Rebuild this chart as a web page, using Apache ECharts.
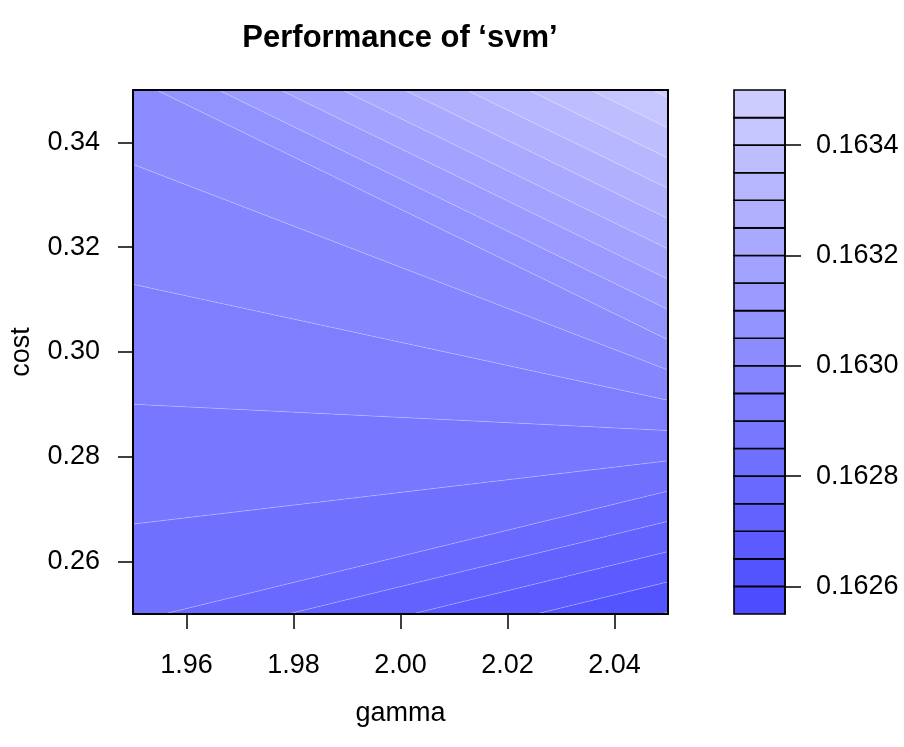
<!DOCTYPE html>
<html><head><meta charset="utf-8">
<script src="https://cdn.jsdelivr.net/npm/echarts@6/dist/echarts.min.js"></script>
<style>html,body{margin:0;padding:0;background:#fff}#c{width:904px;height:747px}</style>
</head><body><div id="c"></div>
<script>
// ---- data ----
const gammaValues = [1.95, 2.05];
const costValues = [0.25, 0.35];
const errorAtCost025 = [0.1628125, 0.1625968]; // gamma 1.95, 2.05
const errorAtCost035 = [0.1630310, 0.1634625]; // gamma 1.95, 2.05
const contourLevels = [0.16255, 0.16260, 0.16265, 0.16270, 0.16275, 0.16280, 0.16285,
  0.16290, 0.16295, 0.16300, 0.16305, 0.16310, 0.16315, 0.16320, 0.16325, 0.16330,
  0.16335, 0.16340, 0.16345, 0.16350];
const gammaTicks = [1.96, 1.98, 2.00, 2.02, 2.04];
const costTicks = [0.26, 0.28, 0.30, 0.32, 0.34];
const keyTicks = [0.1626, 0.1628, 0.1630, 0.1632, 0.1634];

const errorGrid = [errorAtCost025, errorAtCost035];
const nBands = contourLevels.length - 1;
// hsv palette h=2/3, s from 0.7 to 0.2, v=1
const palette = [];
for (let i = 0; i < nBands; i++) {
  const s = 0.7 + (0.2 - 0.7) * i / (nBands - 1);
  const c = Math.round((1 - s) * 255);
  palette.push('rgb(' + c + ',' + c + ',255)');
}

const cellBands = [];
for (let j = 0; j < costValues.length - 1; j++)
  for (let i = 0; i < gammaValues.length - 1; i++)
    for (let b = 0; b < nBands; b++)
      cellBands.push([(gammaValues[i] + gammaValues[i + 1]) / 2, (costValues[j] + costValues[j + 1]) / 2, i, j, b]);

function interp(P, Q, lev) {
  const t = (lev - P[2]) / (Q[2] - P[2]);
  return [P[0] + t * (Q[0] - P[0]), P[1] + t * (Q[1] - P[1]), lev];
}
function clip(poly, lev, above) {
  const out = [];
  for (let k = 0; k < poly.length; k++) {
    const P = poly[k], Q = poly[(k + 1) % poly.length];
    const pin = above ? P[2] >= lev : P[2] <= lev;
    const qin = above ? Q[2] >= lev : Q[2] <= lev;
    if (pin && qin) out.push(Q);
    else if (pin && !qin) out.push(interp(P, Q, lev));
    else if (!pin && qin) { out.push(interp(P, Q, lev)); out.push(Q); }
  }
  return out;
}

const keyData = [];
for (let b = 0; b < nBands; b++) keyData.push([0.5, (contourLevels[b] + contourLevels[b + 1]) / 2, b]);

const font = 'Liberation Sans';
const txt = { color: '#000', fontFamily: font, fontSize: 27 };

const chart = echarts.init(document.getElementById('c'), null, { renderer: 'canvas' });
chart.setOption({
  animation: false,
  backgroundColor: '#fff',
  graphic: [{
    type: 'text', x: 400, y: 38, z: 100,
    style: { text: 'Performance of \u2018svm\u2019', font: 'bold 31px ' + font, fill: '#000', textAlign: 'center', textVerticalAlign: 'middle' }
  }],
  grid: [
    { left: 132, top: 90, width: 536, height: 524 },
    { left: 734, top: 90, width: 51, height: 524 }
  ],
  xAxis: [
    { gridIndex: 0, type: 'value', min: 1.95, max: 2.05, position: 'bottom', z: 10,
      axisLine: { show: true, onZero: false, lineStyle: { color: '#000', width: 2 } },
      axisTick: { show: true, inside: false, customValues: gammaTicks, length: 15, lineStyle: { color: '#000', width: 1.5 } },
      axisLabel: { show: true, customValues: gammaTicks, formatter: v => v.toFixed(2), margin: 38, ...txt },
      splitLine: { show: false },
      name: 'gamma', nameLocation: 'middle', nameGap: 86, nameTextStyle: txt },
    { gridIndex: 0, type: 'value', min: 1.95, max: 2.05, position: 'top', z: 10,
      axisLine: { show: true, onZero: false, lineStyle: { color: '#000', width: 2 } },
      axisTick: { show: false }, axisLabel: { show: false }, splitLine: { show: false } },
    { gridIndex: 1, type: 'value', min: 0, max: 1, show: false }
  ],
  yAxis: [
    { gridIndex: 0, type: 'value', min: 0.25, max: 0.35, position: 'left', z: 10,
      axisLine: { show: true, onZero: false, lineStyle: { color: '#000', width: 2 } },
      axisTick: { show: true, inside: false, customValues: costTicks, length: 15, lineStyle: { color: '#000', width: 1.5 } },
      axisLabel: { show: true, customValues: costTicks, formatter: v => v.toFixed(2), margin: 33, ...txt },
      splitLine: { show: false },
      name: 'cost', nameLocation: 'middle', nameRotate: 90, nameGap: 98, nameTextStyle: txt },
    { gridIndex: 0, type: 'value', min: 0.25, max: 0.35, position: 'right', z: 10,
      axisLine: { show: true, onZero: false, lineStyle: { color: '#000', width: 2 } },
      axisTick: { show: false }, axisLabel: { show: false }, splitLine: { show: false } },
    { gridIndex: 1, type: 'value', min: 0.16255, max: 0.16350, position: 'right', z: 10,
      axisLine: { show: true, onZero: false, lineStyle: { color: '#000', width: 1.6 } },
      axisTick: { show: true, inside: false, customValues: keyTicks, length: 16, lineStyle: { color: '#000', width: 1.5 } },
      axisLabel: { show: true, customValues: keyTicks, formatter: v => v.toFixed(4), margin: 31, ...txt },
      splitLine: { show: false } }
  ],
  series: [
    { type: 'custom', coordinateSystem: 'cartesian2d', xAxisIndex: 0, yAxisIndex: 0,
      data: cellBands, clip: true, silent: true,
      renderItem: function (params, api) {
        const i = api.value(2), j = api.value(3), b = api.value(4);
        let poly = [
          [gammaValues[i], costValues[j], errorGrid[j][i]],
          [gammaValues[i + 1], costValues[j], errorGrid[j][i + 1]],
          [gammaValues[i + 1], costValues[j + 1], errorGrid[j + 1][i + 1]],
          [gammaValues[i], costValues[j + 1], errorGrid[j + 1][i]]
        ];
        poly = clip(poly, contourLevels[b], true);
        if (poly.length >= 3) poly = clip(poly, contourLevels[b + 1], false);
        if (poly.length < 3) return null;
        return { type: 'polygon', shape: { points: poly.map(p => api.coord([p[0], p[1]])) },
          style: { fill: palette[b], stroke: 'rgba(255,255,255,0.3)', lineWidth: 0.6 } };
      } },
    { type: 'custom', coordinateSystem: 'cartesian2d', xAxisIndex: 2, yAxisIndex: 2,
      data: keyData, silent: true,
      renderItem: function (params, api) {
        const b = api.value(2);
        const p0 = api.coord([0, contourLevels[b]]);
        const p1 = api.coord([1, contourLevels[b + 1]]);
        return { type: 'rect', shape: { x: p0[0], y: p1[1], width: p1[0] - p0[0], height: p0[1] - p1[1] },
          style: { fill: palette[b], stroke: '#000', lineWidth: 1.6 } };
      } }
  ]
});
</script></body></html>
